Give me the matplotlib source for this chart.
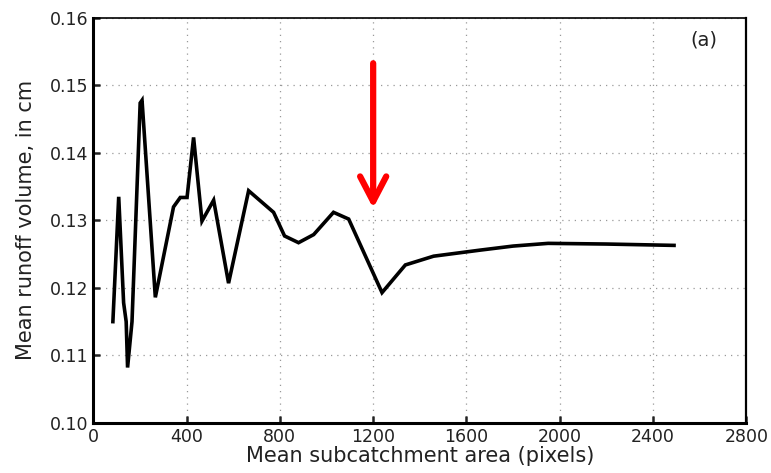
import matplotlib
matplotlib.use("Agg")
import matplotlib.pyplot as plt

# mean subcatchment area (pixels) and mean runoff volume (cm)
area = [84, 109, 130, 141, 147, 166, 201, 209, 266, 344, 373, 402, 430, 466, 516,
        580, 666, 773, 820, 880, 945, 1030, 1095, 1238, 1338, 1459, 1659, 1800,
        1950, 2200, 2490]
runoff = [0.1150, 0.1335, 0.1178, 0.1150, 0.1082, 0.1150, 0.1474, 0.1478, 0.1186,
          0.1320, 0.1334, 0.1334, 0.1423, 0.1299, 0.1330, 0.1207, 0.1344, 0.1312,
          0.1277, 0.1267, 0.1279, 0.1312, 0.1302, 0.1193, 0.1234, 0.1247, 0.1256,
          0.1262, 0.1266, 0.1265, 0.1263]

x_ticks = [0, 400, 800, 1200, 1600, 2000, 2400, 2800]
y_ticks = [0.10, 0.11, 0.12, 0.13, 0.14, 0.15, 0.16]

# red arrow marking the dip
arrow_x = 1200
arrow_top = 0.1537
arrow_tip = 0.1314

fig, ax = plt.subplots(figsize=(7.71, 4.73), dpi=100)
fig.subplots_adjust(left=0.121, right=0.968, top=0.962, bottom=0.106)

ax.plot(area, runoff, color='black', lw=2.6, solid_joinstyle='miter')

ax.set_xlim(0, 2800)
ax.set_ylim(0.10, 0.16)
ax.set_xticks(x_ticks)
ax.set_yticks(y_ticks)
ax.set_xticklabels([str(t) for t in x_ticks])
ax.set_yticklabels([f"{t:.2f}" for t in y_ticks])
ax.tick_params(direction='in', length=5, width=1.8, labelsize=12.5, colors='#222222')
ax.grid(True, linestyle=(0, (1, 4)), color='#999999', lw=0.9)

for side in ['left', 'bottom']:
    ax.spines[side].set_linewidth(2.2)
ax.spines['right'].set_linewidth(1.6)
ax.spines['top'].set_linewidth(1.2)

ax.set_xlabel("Mean subcatchment area (pixels)", fontsize=15, labelpad=0, color='#222222')
ax.set_ylabel("Mean runoff volume, in cm", fontsize=15, labelpad=10, color='#222222')

ax.text(0.955, 0.945, "(a)", transform=ax.transAxes, ha='right', va='center',
        fontsize=14, color='#222222')

ax.annotate("", xy=(arrow_x, arrow_tip), xytext=(arrow_x, arrow_top),
            arrowprops=dict(arrowstyle='->,head_length=0.9,head_width=0.47',
                            mutation_scale=20, color='#ff0000', lw=4.5))

plt.savefig("out.png", dpi=100)
